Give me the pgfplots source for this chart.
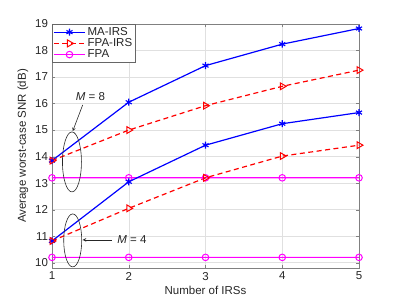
\documentclass[border=0pt]{standalone}
\usepackage{pgfplots}
\pgfplotsset{compat=1.18}
\usepackage{fontspec}
\setmainfont{Liberation Sans}
\definecolor{mablue}{rgb}{0,0,1}
\definecolor{mared}{rgb}{1,0,0}
\definecolor{mamag}{rgb}{1,0,1}
\definecolor{txt}{rgb}{0.15,0.15,0.15}
\begin{document}
\fontsize{11.5bp}{13bp}\selectfont
\begin{tikzpicture}
\begin{axis}[
  scale only axis,
  width=307bp, height=244bp,
  xmin=1, xmax=5, ymin=9.8, ymax=19,
  xtick={1,2,3,4,5}, ytick={10,11,12,13,14,15,16,17,18,19},
  /pgf/number format/assume math mode=true,
  tick label style={font=\fontsize{11.5bp}{13bp}\selectfont, text=txt},
  label style={font=\fontsize{11.5bp}{13bp}\selectfont, text=txt},
  xlabel={Number of IRSs},
  ylabel={Average worst-case SNR (dB)},
  ylabel style={yshift=-1bp},
  xlabel style={yshift=2bp},
  grid=major,
  grid style={black!12, line width=0.5pt},
  axis line style={black!50, line width=0.6pt},
  tick style={black!50},
  tick align=inside,
  major tick length=3bp,
  legend style={at={(0,1)}, anchor=north west, draw=black!60, line width=0.6pt,
    font=\fontsize{11.5bp}{13bp}\selectfont, inner sep=1bp, row sep=-2.5bp,
    cells={anchor=west, text=txt}},
  legend image code/.code={
    \draw[#1] (0cm,0cm) -- (1.1cm,0cm);
    \draw[#1, solid] plot coordinates {(0.55cm,0cm)};
  },
]
\addplot[mablue, line width=1.2pt, mark=asterisk, mark size=3.5pt, mark options={solid, line width=1.1pt}]
  coordinates {(1,13.85) (2,16.05) (3,17.43) (4,18.24) (5,18.83)};
\addlegendentry{MA-IRS}
\addplot[mared, line width=1.2pt, dash pattern=on 5bp off 3.5bp, mark=triangle, mark size=4pt, mark options={solid, rotate=-90, line width=1pt}]
  coordinates {(1,13.85) (2,15.0) (3,15.92) (4,16.65) (5,17.26)};
\addlegendentry{FPA-IRS}
\addplot[draw=mamag, color=mamag, line width=1.2pt, mark=o, mark size=3.3pt, mark options={solid, line width=1pt}]
  coordinates {(1,13.2) (2,13.2001) (3,13.2) (4,13.2001) (5,13.2)};
\addlegendentry{FPA}
\addplot[mablue, line width=1.2pt, mark=asterisk, mark size=3.5pt, mark options={solid, line width=1.1pt}, forget plot]
  coordinates {(1,10.82) (2,13.05) (3,14.43) (4,15.24) (5,15.66)};
\addplot[mared, line width=1.2pt, dash pattern=on 5bp off 3.5bp, mark=triangle, mark size=4pt, mark options={solid, rotate=-90, line width=1pt}, forget plot]
  coordinates {(1,10.82) (2,12.05) (3,13.2) (4,14.02) (5,14.43)};
\addplot[draw=mamag, line width=1.2pt, mark=o, mark size=3.3pt, mark options={solid, line width=1pt}, forget plot]
  coordinates {(1,10.2) (2,10.2001) (3,10.2) (4,10.2001) (5,10.2)};
% annotations
\draw[txt, line width=0.6pt] (axis cs:1.26,13.8) ellipse [x radius=9.5bp, y radius=30bp];
\draw[txt, line width=0.6pt] (axis cs:1.27,10.84) ellipse [x radius=9bp, y radius=26.5bp];
\draw[txt, line width=0.6pt, -stealth] (axis cs:1.40,15.95) -- (axis cs:1.27,14.96);
\draw[txt, line width=0.6pt, -stealth] (axis cs:1.78,10.86) -- (axis cs:1.40,10.86);
\node[text=txt, font=\fontsize{11.5bp}{13bp}\selectfont] at (axis cs:1.50,16.27) {\textit{M} = 8};
\node[text=txt, font=\fontsize{11.5bp}{13bp}\selectfont, anchor=west] at (axis cs:1.80,10.86) {\textit{M} = 4};
\end{axis}
\pgfresetboundingbox
\path ([shift={(-52bp,-37bp)}]current axis.south west) rectangle ([shift={(38bp,24bp)}]current axis.north east);
\end{tikzpicture}
\end{document}
